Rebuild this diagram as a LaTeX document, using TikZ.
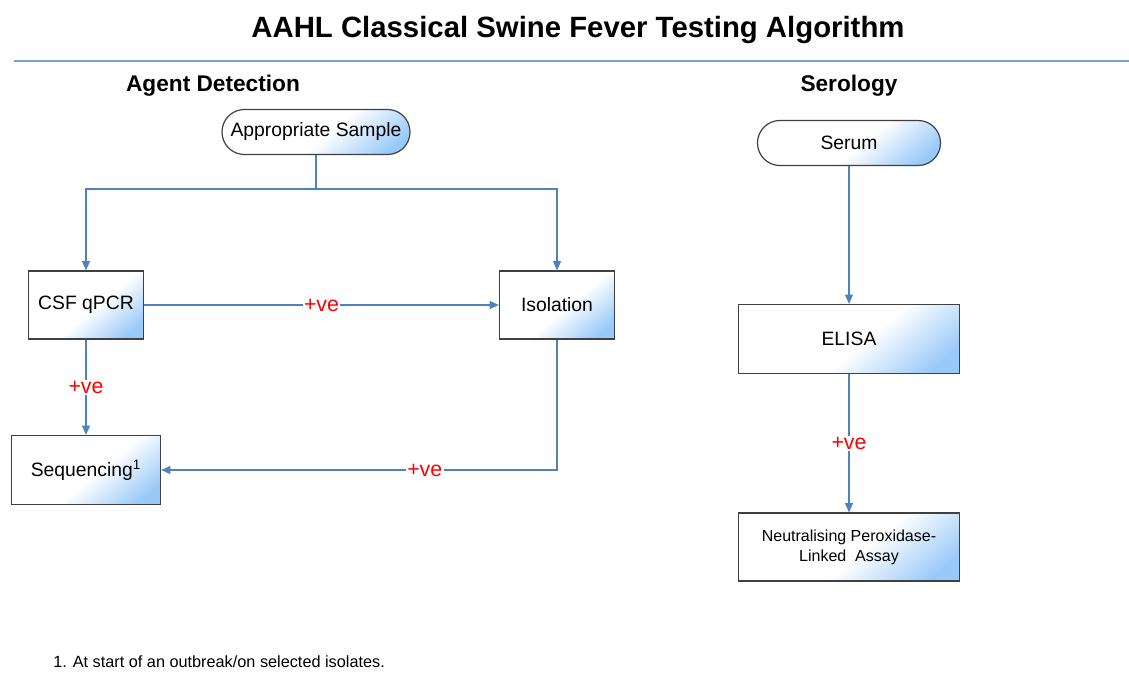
\documentclass[tikz,border=0pt]{standalone}
\usepackage{fontspec}
\setmainfont{Liberation Sans}
\usetikzlibrary{arrows.meta}
\definecolor{boxblue}{HTML}{99C9F8}
\definecolor{boxedge}{HTML}{404040}
\definecolor{flowblue}{HTML}{4F81BD}
\definecolor{rulecol}{HTML}{7F9FD0}
\pgfdeclareverticalshading{boxfade}{100bp}{color(0bp)=(boxblue); color(22bp)=(boxblue);
  color(46bp)=(white); color(100bp)=(white)}
\begin{document}
\begin{tikzpicture}[x=0.75pt,y=-0.75pt,
  box/.style={rectangle,draw=boxedge,line width=0.9pt,shade,shading=boxfade,shading angle=40,
    inner sep=0pt,align=center,font=\fontsize{14.5}{17}\selectfont},
  pill/.style={box,rounded corners=16.8pt},
  flow/.style={draw=flowblue,line width=0.8pt},
  arrow/.style={flow,-{Triangle[length=7pt,width=6pt]}},
  plusve/.style={fill=white,text=red,inner sep=1pt,font=\fontsize{16}{18}\selectfont},
  heading/.style={font=\bfseries\fontsize{17}{20}\selectfont}]
\useasboundingbox (0,0) rectangle (1129,699);
\node [font=\bfseries\fontsize{22}{26}\selectfont] (title) at (578,30) {AAHL Classical Swine Fever Testing Algorithm};
\draw [rulecol,line width=1.5pt] (14,61) -- (1129,61);
\node [heading] (agent) at (213,86) {Agent Detection};
\node [heading] (serology) at (849,86) {Serology};
% agent detection
\node [pill,minimum width=141pt,minimum height=33.75pt] (sample) at (316,132) {Appropriate Sample};
\node [box,minimum width=86.25pt,minimum height=51pt] (qpcr) at (86,305) {CSF qPCR};
\node [box,minimum width=86.25pt,minimum height=51pt] (isolation) at (557,305) {Isolation};
\node [box,minimum width=111.75pt,minimum height=51.75pt] (seq) at (86,470) {Sequencing\textsuperscript{1}};
\coordinate (split) at (316,189);
\draw [flow] (sample) -- (split);
\draw [arrow] (split) -| (qpcr);
\draw [arrow] (split) -| (isolation);
\draw [arrow] (qpcr) -- (isolation) node [plusve,midway] {+ve};
\draw [arrow] (qpcr) -- (seq) node [plusve,midway] {+ve};
\draw [arrow] (isolation) |- (seq) node [plusve,pos=0.667] {+ve};
% serology
\node [pill,minimum width=137.25pt,minimum height=33.75pt] (serum) at (849,143) {Serum};
\node [box,minimum width=165.75pt,minimum height=51.75pt] (elisa) at (849,339) {ELISA};
\node [box,minimum width=165.75pt,minimum height=51pt,
  font=\fontsize{12}{15}\selectfont] (npla) at (849,547) {Neutralising Peroxidase-\\Linked\ \ Assay};
\draw [arrow] (serum) -- (elisa);
\draw [arrow] (elisa) -- (npla) node [plusve,midway] {+ve};
\node [anchor=west,inner sep=0pt,font=\fontsize{12.2}{14}\selectfont] (note) at (53,662) {1. At start of an outbreak/on selected isolates.};
\end{tikzpicture}
\end{document}
